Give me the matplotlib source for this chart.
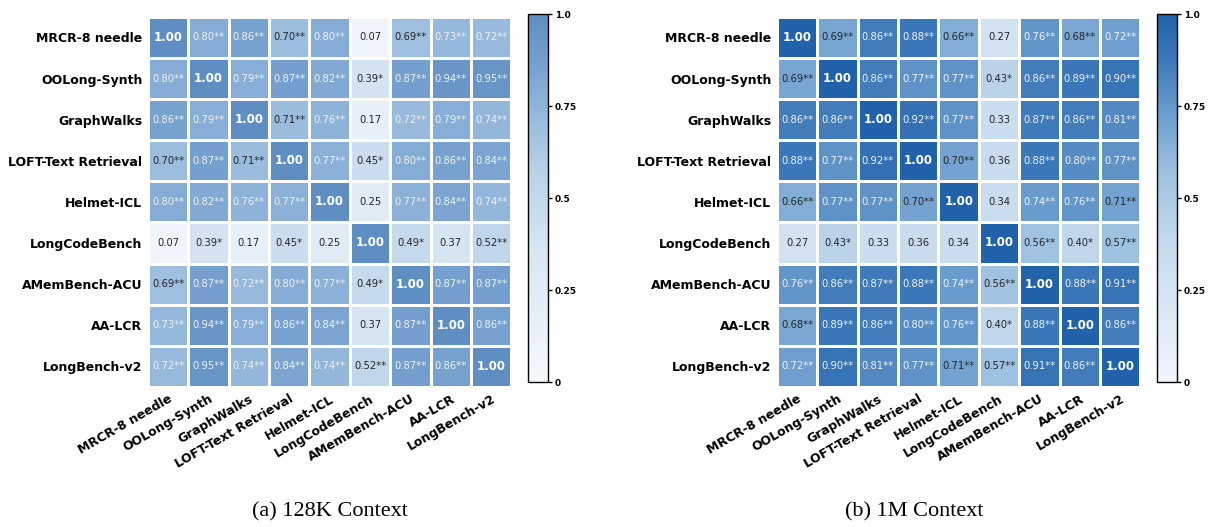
import numpy as np
import matplotlib
matplotlib.use("Agg")
import matplotlib.pyplot as plt
from matplotlib.colors import LinearSegmentedColormap

benchmarks = ["MRCR-8 needle", "OOLong-Synth", "GraphWalks", "LOFT-Text Retrieval",
              "Helmet-ICL", "LongCodeBench", "AMemBench-ACU", "AA-LCR", "LongBench-v2"]

# correlations, 128K context
corr_128k = np.array([
    [1.00, 0.80, 0.86, 0.70, 0.80, 0.07, 0.69, 0.73, 0.72],
    [0.80, 1.00, 0.79, 0.87, 0.82, 0.39, 0.87, 0.94, 0.95],
    [0.86, 0.79, 1.00, 0.71, 0.76, 0.17, 0.72, 0.79, 0.74],
    [0.70, 0.87, 0.71, 1.00, 0.77, 0.45, 0.80, 0.86, 0.84],
    [0.80, 0.82, 0.76, 0.77, 1.00, 0.25, 0.77, 0.84, 0.74],
    [0.07, 0.39, 0.17, 0.45, 0.25, 1.00, 0.49, 0.37, 0.52],
    [0.69, 0.87, 0.72, 0.80, 0.77, 0.49, 1.00, 0.87, 0.87],
    [0.73, 0.94, 0.79, 0.86, 0.84, 0.37, 0.87, 1.00, 0.86],
    [0.72, 0.95, 0.74, 0.84, 0.74, 0.52, 0.87, 0.86, 1.00],
])
stars_128k = [
    ["", "**", "**", "**", "**", "", "**", "**", "**"],
    ["**", "", "**", "**", "**", "*", "**", "**", "**"],
    ["**", "**", "", "**", "**", "", "**", "**", "**"],
    ["**", "**", "**", "", "**", "*", "**", "**", "**"],
    ["**", "**", "**", "**", "", "", "**", "**", "**"],
    ["", "*", "", "*", "", "", "*", "", "**"],
    ["**", "**", "**", "**", "**", "*", "", "**", "**"],
    ["**", "**", "**", "**", "**", "", "**", "", "**"],
    ["**", "**", "**", "**", "**", "**", "**", "**", ""],
]

# correlations, 1M context
corr_1m = np.array([
    [1.00, 0.69, 0.86, 0.88, 0.66, 0.27, 0.76, 0.68, 0.72],
    [0.69, 1.00, 0.86, 0.77, 0.77, 0.43, 0.86, 0.89, 0.90],
    [0.86, 0.86, 1.00, 0.92, 0.77, 0.33, 0.87, 0.86, 0.81],
    [0.88, 0.77, 0.92, 1.00, 0.70, 0.36, 0.88, 0.80, 0.77],
    [0.66, 0.77, 0.77, 0.70, 1.00, 0.34, 0.74, 0.76, 0.71],
    [0.27, 0.43, 0.33, 0.36, 0.34, 1.00, 0.56, 0.40, 0.57],
    [0.76, 0.86, 0.87, 0.88, 0.74, 0.56, 1.00, 0.88, 0.91],
    [0.68, 0.89, 0.86, 0.80, 0.76, 0.40, 0.88, 1.00, 0.86],
    [0.72, 0.90, 0.81, 0.77, 0.71, 0.57, 0.91, 0.86, 1.00],
])
stars_1m = [
    ["", "**", "**", "**", "**", "", "**", "**", "**"],
    ["**", "", "**", "**", "**", "*", "**", "**", "**"],
    ["**", "**", "", "**", "**", "", "**", "**", "**"],
    ["**", "**", "**", "", "**", "", "**", "**", "**"],
    ["**", "**", "**", "**", "", "", "**", "**", "**"],
    ["", "*", "", "", "", "", "**", "*", "**"],
    ["**", "**", "**", "**", "**", "**", "", "**", "**"],
    ["**", "**", "**", "**", "**", "*", "**", "", "**"],
    ["**", "**", "**", "**", "**", "**", "**", "**", ""],
]

captions = ["(a) 128K Context", "(b) 1M Context"]
cbar_ticks = [0, 0.25, 0.5, 0.75, 1.0]
cbar_ticklabels = ["0", "0.25", "0.5", "0.75", "1.0"]

# blue ramp
ramp_pos = [0.0, 0.36, 0.56, 0.74, 0.88, 1.0]
ramp_rgb = np.array([(240, 246, 252), (200, 220, 238), (160, 195, 225),
                     (105, 155, 205), (60, 120, 185), (33, 99, 170)]) / 255.0


def make_cmap(alpha):
    blended = alpha * ramp_rgb + (1 - alpha)
    return LinearSegmentedColormap.from_list("b", list(zip(ramp_pos, blended)))


def draw(fig, rect, cbar_rect, corr, stars, cmap, caption, cap_x):
    ax = fig.add_axes(rect)
    n = len(benchmarks)
    mesh = ax.pcolormesh(corr, cmap=cmap, vmin=0, vmax=1, edgecolors="white", linewidth=1)
    ax.set_xlim(0, n)
    ax.set_ylim(n, 0)
    for i in range(n):
        for j in range(n):
            v = corr[i, j]
            if i == j:
                ax.text(j + 0.5, i + 0.5, "1.00", ha="center", va="center",
                        color="white", fontsize=8.5, fontweight="bold")
            else:
                col = "#262626" if v < 0.715 else "#eef2f8"
                ax.text(j + 0.5, i + 0.5, "%.2f%s" % (v, stars[i][j]), ha="center",
                        va="center", color=col, fontsize=7.2)
    ax.set_xticks(np.arange(n) + 0.5)
    ax.set_yticks(np.arange(n) + 0.5)
    ax.set_xticklabels(benchmarks, rotation=30, ha="right", rotation_mode="anchor",
                       fontsize=9, fontweight="bold")
    ax.set_yticklabels(benchmarks, fontsize=9, fontweight="bold")
    ax.tick_params(length=0, pad=4)
    for s in ax.spines.values():
        s.set_visible(False)

    cax = fig.add_axes(cbar_rect)
    cb = fig.colorbar(mesh, cax=cax, ticks=cbar_ticks)
    cb.ax.set_yticklabels(cbar_ticklabels, fontsize=6.5, fontweight="bold")
    cb.outline.set_linewidth(1)
    cb.ax.tick_params(length=3, width=1, pad=2)

    fig.text(cap_x, 0.028, caption, ha="center", va="center", fontsize=16,
             family="Liberation Serif")


fig = plt.figure(figsize=(12.12, 5.27), dpi=100)

draw(fig, [0.122, 0.266, 0.300, 0.702], [0.4356, 0.275, 0.0165, 0.698],
     corr_128k, stars_128k, make_cmap(0.72), captions[0], 0.272)
draw(fig, [0.641, 0.266, 0.300, 0.702], [0.9546, 0.275, 0.0165, 0.698],
     corr_1m, stars_1m, make_cmap(1.0), captions[1], 0.754)

fig.savefig("out.png", dpi=100)
